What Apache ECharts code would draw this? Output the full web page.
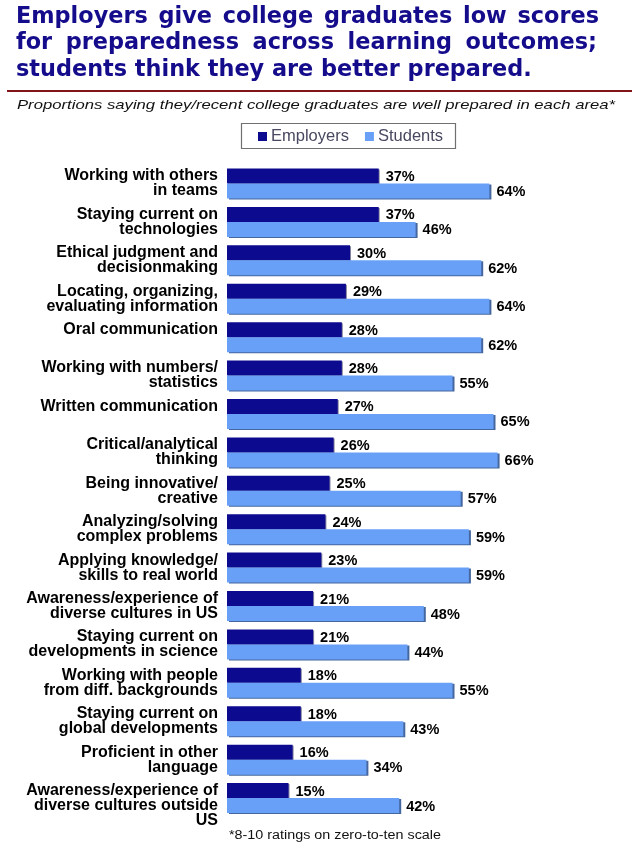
<!DOCTYPE html>
<html><head><meta charset="utf-8">
<script src="https://cdn.jsdelivr.net/npm/echarts@6/dist/echarts.min.js"></script>
<style>html,body{margin:0;padding:0;background:#fff}#c{width:641px;height:848px}</style>
</head><body><div id="c"></div>
<script>
const titleLines = [
  "Employers give college graduates low scores",
  "for preparedness across learning outcomes;",
  "students think they are better prepared."
];
const subtitle = "Proportions saying they/recent college graduates are well prepared in each area*";
const footnote = "*8-10 ratings on zero-to-ten scale";
const seriesNames = ["Employers", "Students"];
const categories = [
  "Working with others\nin teams",
  "Staying current on\ntechnologies",
  "Ethical judgment and\ndecisionmaking",
  "Locating, organizing,\nevaluating information",
  "Oral communication\n ",
  "Working with numbers/\nstatistics",
  "Written communication\n ",
  "Critical/analytical\nthinking",
  "Being innovative/\ncreative",
  "Analyzing/solving\ncomplex problems",
  "Applying knowledge/\nskills to real world",
  "Awareness/experience of\ndiverse cultures in US",
  "Staying current on\ndevelopments in science",
  "Working with people\nfrom diff. backgrounds",
  "Staying current on\nglobal developments",
  "Proficient in other\nlanguage",
  " \nAwareness/experience of\ndiverse cultures outside\nUS"
];
const employers = [37,37,30,29,28,28,27,26,25,24,23,21,21,18,18,16,15];
const students  = [64,46,62,64,62,55,65,66,57,59,59,48,44,55,43,34,42];

const SANS = '"Liberation Sans", Arial, sans-serif';
const ctx = document.createElement('canvas').getContext('2d');
function measure(t, font){ ctx.font = font; return ctx.measureText(t).width; }

// Title: justified lines 1-2, natural line 3
const TITLE_FONT_BASE = '"DejaVu Sans", Verdana, sans-serif';
let tfs = 22;
const w3 = measure(titleLines[2], 'bold ' + tfs + 'px ' + TITLE_FONT_BASE);
tfs = Math.min(23, tfs * 516 / w3);
const titleFont = 'bold ' + tfs.toFixed(2) + 'px ' + TITLE_FONT_BASE;
const titleColor = '#150c8c';
const titleGraphics = [];
const lineEnds = [599, 597, null];
titleLines.forEach((line, i) => {
  const y = 6 + i * 26.5;
  if (lineEnds[i] == null) {
    titleGraphics.push({type:'text', x:16, y:y, style:{text:line, font:titleFont, fill:titleColor}});
    return;
  }
  const words = line.split(' ');
  const ws = words.map(w => measure(w, titleFont));
  const total = ws.reduce((a,b)=>a+b,0);
  const gap = (lineEnds[i] - 16 - total) / (words.length - 1);
  let x = 16;
  words.forEach((w, k) => {
    titleGraphics.push({type:'text', x:x, y:y, style:{text:w, font:titleFont, fill:titleColor}});
    x += ws[k] + gap;
  });
});

const subFont = 'italic 13.5px ' + SANS;
const subScale = (615 - 17) / measure(subtitle, subFont);
const footFont = '12.5px ' + SANS;
const footScale = (441 - 229) / measure(footnote, footFont);

const chart = echarts.init(document.getElementById('c'), null, {renderer:'canvas'});
chart.setOption({
  animation:false,
  backgroundColor:'#fff',
  graphic:[
    ...titleGraphics,
    {type:'line', shape:{x1:7,y1:91,x2:632,y2:91}, style:{stroke:'#801418', lineWidth:2}},
    {type:'text', x:17, y:98, scaleX:subScale, style:{text:subtitle, font:subFont, fill:'#111'}},
    {type:'rect', shape:{x:241.5,y:123.5,width:214,height:25}, style:{fill:'none', stroke:'#707070', lineWidth:1.2}},
    {type:'text', x:229, y:829, scaleX:footScale, style:{text:footnote, font:footFont, fill:'#111'}}
  ],
  legend:{
    top:128, left:258, padding:0, itemWidth:9, itemHeight:9, itemGap:16,
    icon:'rect',
    textStyle:{fontFamily:SANS, fontSize:16.5, color:'#484860', padding:[0,0,0,-1]},
    data:seriesNames
  },
  grid:{left:227, width:410, top:164.3, height:653, containLabel:false},
  xAxis:{type:'value', min:0, max:100, show:false},
  yAxis:{
    type:'category', inverse:true, data:categories,
    axisLine:{show:false}, axisTick:{show:false},
    axisLabel:{interval:0, hideOverlap:false, margin:9, color:'#000', fontWeight:'bold', fontSize:16, lineHeight:15,
      fontFamily:SANS, align:'right'}
  },
  series:[
    {name:seriesNames[0], type:'bar', data:employers, barWidth:15, barGap:'0%',
      itemStyle:{color:'#0c0a8e', shadowColor:'rgba(30,30,80,0.55)', shadowOffsetX:1, shadowOffsetY:1, shadowBlur:0},
      label:{show:true, position:'right', distance:7, offset:[0,1], formatter:'{c}%', color:'#000', fontWeight:'bold', fontSize:14.5, fontFamily:SANS}},
    {name:seriesNames[1], type:'bar', data:students, barWidth:15,
      itemStyle:{color:'#68a0f8', shadowColor:'#45679f', shadowOffsetX:2, shadowOffsetY:1, shadowBlur:0},
      label:{show:true, position:'right', distance:7, offset:[0,1], formatter:'{c}%', color:'#000', fontWeight:'bold', fontSize:14.5, fontFamily:SANS}}
  ]
});
</script></body></html>
